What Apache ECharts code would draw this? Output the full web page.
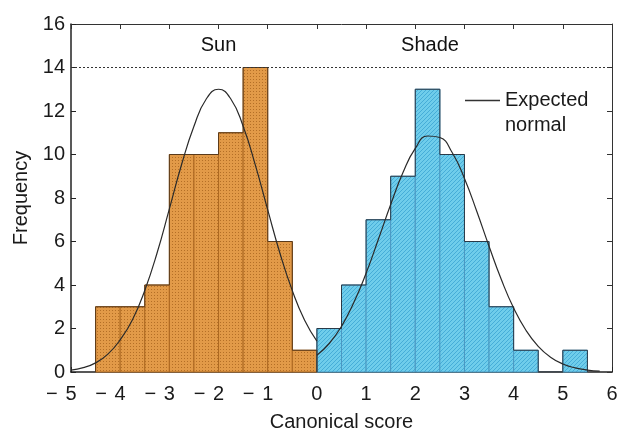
<!DOCTYPE html>
<html><head><meta charset="utf-8">
<script src="https://cdn.jsdelivr.net/npm/echarts@6/dist/echarts.min.js"></script>
<style>html,body{margin:0;padding:0;background:#fff}#c{width:621px;height:431px}</style>
</head><body><div id="c"></div>
<script>
// ---- data ----
const binWidth = 0.5;
const sunStart = -4.5;
const sunCounts = [3, 3, 4, 10, 10, 11, 14, 6, 1];
const shadeStart = 0;
const shadeCounts = [2, 4, 7, 9, 13, 10, 6, 3, 1, 0, 1];

const sunCurveX = [-5, -4.75, -4.5, -4.25, -4, -3.75, -3.5, -3.25, -3, -2.75, -2.5, -2.25, -2, -1.75, -1.5, -1.25, -1, -0.75, -0.5, -0.25, 0];
const sunCurveY = [0.09, 0.2, 0.42, 0.82, 1.48, 2.4, 3.75, 5.47, 7.5, 9.55, 11.3, 12.55, 13.0, 12.55, 11.3, 9.5, 7.45, 5.45, 3.74, 2.38, 1.42];
const shadeCurveX = [0, 0.25, 0.5, 0.75, 1, 1.25, 1.5, 1.75, 2, 2.25, 2.5, 2.75, 3, 3.25, 3.5, 3.75, 4, 4.25, 4.5, 4.75, 5, 5.25, 5.5, 5.75];
const shadeCurveY = [0.77, 1.31, 2.1, 3.19, 4.54, 6.1, 7.7, 9.17, 10.28, 10.85, 10.78, 10.09, 8.9, 7.39, 5.78, 4.25, 2.94, 1.92, 1.18, 0.68, 0.37, 0.19, 0.09, 0.04];

const groupNames = ['Sun', 'Shade'];
const groupLabelX = [-2, 2.3];
const groupLabelY = [15, 15];
const referenceLevel = 14;

const xMin = -5, xMax = 6, xStep = 1;
const yMin = 0, yMax = 16, yStep = 2;

// ---- helpers ----
function bins(start, counts) {
  return counts.map((c, i) => [start + i * binWidth, start + (i + 1) * binWidth, c]);
}
function outline(start, counts) {
  const pts = [[start, 0]];
  counts.forEach((c, i) => pts.push([start + i * binWidth, c]));
  pts.push([start + counts.length * binWidth, 0]);
  return pts;
}
function makePattern(size, base, mark, pixels) {
  const cv = document.createElement('canvas');
  cv.width = size; cv.height = size;
  const g = cv.getContext('2d');
  g.fillStyle = base; g.fillRect(0, 0, size, size);
  g.fillStyle = mark;
  pixels.forEach(p => g.fillRect(p[0], p[1], 1, 1));
  return cv;
}
const dotTile = makePattern(3, '#E29A48', '#B46F26', [[1, 1]]);
const hatchTile = makePattern(4, '#6FCDEB', '#46ADD8', [[3, 0], [2, 1], [1, 2], [0, 3]]);

function histRender(fillTile, edge) {
  return function (params, api) {
    const x0 = api.value(0), x1 = api.value(1), v = api.value(2);
    if (!v) return { type: 'group', children: [] };
    const p0 = api.coord([x0, v]);
    const p1 = api.coord([x1, 0]);
    return {
      type: 'rect',
      shape: { x: p0[0], y: p0[1], width: p1[0] - p0[0], height: p1[1] - p0[1] },
      style: { fill: { image: fillTile, repeat: 'repeat' }, stroke: edge, lineWidth: 1 }
    };
  };
}

const FONT = '"Liberation Sans", Arial, Helvetica, sans-serif';
const TXT = '#1a1a1a';

const chart = echarts.init(document.getElementById('c'));
chart.setOption({
  backgroundColor: '#fff',
  animation: false,
  textStyle: { fontFamily: FONT, color: TXT },
  grid: { left: 71, right: 9, top: 24, bottom: 59, containLabel: false, outerBoundsMode: 'none' },
  legend: {
    data: [{ name: 'Expected normal', icon: 'rect', itemStyle: { color: '#333' } }],
    left: 465, top: 63, padding: 0,
    itemWidth: 35, itemHeight: 1.4,
    formatter: n => ' \n' + n.replace(' ', '\n'),
    textStyle: { fontSize: 20, lineHeight: 25, color: TXT, fontFamily: FONT }
  },
  xAxis: [{
    type: 'value', min: xMin, max: xMax, interval: xStep, position: 'bottom',
    name: 'Canonical score', nameLocation: 'middle', nameGap: 40,
    nameTextStyle: { fontSize: 20, color: TXT, fontFamily: FONT },
    axisLine: { show: true, onZero: false, lineStyle: { color: '#222', width: 1.5 } },
    axisTick: { show: true, inside: true, length: 5, lineStyle: { color: '#222' } },
    splitLine: { show: false },
    axisLabel: {
      fontSize: 20, color: TXT, fontFamily: FONT, margin: 12,
      formatter: v => v < 0 ? '{m|\u2212}{d|' + Math.abs(v) + '}{p| }' : '{d|' + v + '}',
      rich: {
        m: { width: 27, fontSize: 20, fontFamily: FONT, color: TXT },
        d: { fontSize: 20, fontFamily: FONT, color: TXT },
        p: { width: 27, fontSize: 20, fontFamily: FONT }
      }
    }
  }, {
    type: 'value', min: xMin, max: xMax, interval: xStep, position: 'top',
    axisLine: { show: true, onZero: false, lineStyle: { color: '#333', width: 1 } },
    axisTick: { show: true, inside: true, length: 5, lineStyle: { color: '#333' } },
    axisLabel: { show: false }, splitLine: { show: false }
  }],
  yAxis: [{
    type: 'value', min: yMin, max: yMax, interval: yStep, position: 'left',
    name: 'Frequency', nameLocation: 'middle', nameGap: 36,
    nameTextStyle: { fontSize: 20, color: TXT, fontFamily: FONT },
    axisLine: { show: true, onZero: false, lineStyle: { color: '#222', width: 1.5 } },
    axisTick: { show: true, inside: true, length: 5, lineStyle: { color: '#222' } },
    splitLine: { show: false },
    axisLabel: { fontSize: 20, color: TXT, fontFamily: FONT, margin: 6 }
  }, {
    type: 'value', min: yMin, max: yMax, interval: yStep, position: 'right',
    axisLine: { show: true, onZero: false, lineStyle: { color: '#333', width: 1 } },
    axisTick: { show: true, inside: true, length: 5, lineStyle: { color: '#333' } },
    axisLabel: { show: false }, splitLine: { show: false }
  }],
  series: [
    {
      type: 'custom', name: 'Sun', renderItem: histRender(dotTile, '#AD6820'),
      data: bins(sunStart, sunCounts), encode: { x: [0, 1], y: 2 }, z: 2, silent: true
    },
    {
      type: 'custom', name: 'Shade', renderItem: histRender(hatchTile, '#4A98C2'),
      data: bins(shadeStart, shadeCounts), encode: { x: [0, 1], y: 2 }, z: 2, silent: true
    },
    {
      type: 'line', name: 'sunOutline', data: outline(sunStart, sunCounts), step: 'end',
      symbol: 'none', lineStyle: { color: '#5a3a1a', width: 1 }, z: 3, silent: true
    },
    {
      type: 'line', name: 'shadeOutline', data: outline(shadeStart, shadeCounts), step: 'end',
      symbol: 'none', lineStyle: { color: '#2a3a48', width: 1 }, z: 3, silent: true
    },
    {
      type: 'line', name: 'Expected normal', data: sunCurveX.map((x, i) => [x, sunCurveY[i]]),
      smooth: true, symbol: 'none', lineStyle: { color: '#2a2a2a', width: 1.2 }, itemStyle: { color: '#333' }, z: 4, silent: true,
      markLine: {
        silent: true, symbol: 'none', label: { show: false },
        lineStyle: { color: '#333', type: [2, 2], width: 1 },
        data: [{ yAxis: referenceLevel }]
      }
    },
    {
      type: 'line', name: 'Expected normal', data: shadeCurveX.map((x, i) => [x, shadeCurveY[i]]),
      smooth: true, symbol: 'none', lineStyle: { color: '#2a2a2a', width: 1.2 }, itemStyle: { color: '#333' }, z: 4, silent: true
    },
    {
      type: 'scatter', name: 'groups', symbolSize: 1, itemStyle: { color: '#fff', opacity: 1 }, silent: true,
      emphasis: { disabled: true },
      data: groupNames.map((n, i) => ({ name: n, value: [groupLabelX[i], groupLabelY[i]] })),
      label: { show: true, position: 'inside', formatter: p => p.name, fontSize: 20, color: '#111', opacity: 1, fontFamily: FONT }
    }
  ]
});
</script>
</body></html>
